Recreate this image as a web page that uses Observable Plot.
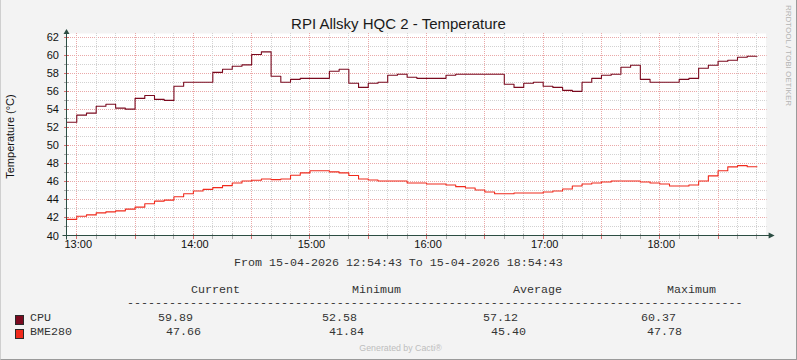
<!DOCTYPE html>
<html>
<head>
<meta charset="utf-8">
<script src="https://cdn.jsdelivr.net/npm/d3@7"></script>
<script src="https://cdn.jsdelivr.net/npm/@observablehq/plot@0.6"></script>
<style>
  html, body { margin: 0; padding: 0; background: #f3f3f3; }
  #frame { position: relative; width: 797px; height: 360px; background: #f3f3f3; overflow: hidden;
           font-family: "Liberation Sans", Arial, sans-serif; }
  #frame svg { position: absolute; left: 0; top: 0; }
  .abs { position: absolute; white-space: pre; }
  .mono { font-family: "Liberation Mono", "Courier New", monospace; font-size: 11.67px; line-height: 11.67px; color: #333; }
  #border { position: absolute; left: 0; top: 0; width: 797px; height: 360px; box-sizing: border-box;
            border-left: 1px solid #cfcfcf; border-right: 1px solid #9a9a9a; border-bottom: 1px solid #9a9a9a; pointer-events: none; }
</style>
</head>
<body>
<div id="frame"></div>
<script>
// ---------------- data ----------------
const seriesNames = ["CPU", "BME280"];
const seriesColors = ["#7b0a1f", "#f02a1c"];

// 5-minute samples starting 12:55
const cpuValues = [52.58, 53.37, 53.59, 54.36, 54.57, 54.14, 54.03, 55.22, 55.55, 55.11,
                   55.00, 56.56, 57.00, 57.00, 57.00, 58.10, 58.44, 58.78, 58.93, 60.07,
                   60.37, 57.67, 57.00, 57.33, 57.44, 57.44, 57.44, 58.22, 58.44, 56.89,
                   56.44, 56.89, 57.00, 57.78, 57.89, 57.56, 57.44, 57.44, 57.44, 57.78,
                   57.89, 57.89, 57.89, 57.89, 57.89, 56.78, 56.44, 56.89, 57.00, 56.56,
                   56.44, 56.11, 56.00, 57.00, 57.44, 57.78, 57.89, 58.67, 58.89, 57.33,
                   57.00, 57.00, 57.00, 57.33, 57.44, 58.55, 58.89, 59.33, 59.44, 59.78,
                   59.89];
const bmeValues = [41.84, 42.19, 42.34, 42.56, 42.67, 42.78, 42.97, 43.19, 43.56, 43.86,
                   43.97, 44.34, 44.68, 44.98, 45.16, 45.35, 45.57, 45.87, 46.09, 46.17,
                   46.31, 46.24, 46.31, 46.72, 46.98, 47.21, 47.21, 47.09, 46.98, 46.69,
                   46.31, 46.20, 46.09, 46.09, 46.09, 45.87, 45.87, 45.76, 45.76, 45.64,
                   45.46, 45.31, 45.09, 44.86, 44.68, 44.68, 44.75, 44.75, 44.75, 44.86,
                   44.98, 45.20, 45.53, 45.76, 45.87, 45.98, 46.09, 46.09, 46.09, 45.98,
                   45.87, 45.76, 45.53, 45.53, 45.64, 46.09, 46.65, 47.21, 47.65, 47.78,
                   47.66];

const statHeaders = ["Current", "Minimum", "Average", "Maximum"];
const statCurrent = [59.89, 47.66];
const statMinimum = [52.58, 41.84];
const statAverage = [57.12, 45.40];
const statMaximum = [60.37, 47.78];

const yTickLabels = [40, 42, 44, 46, 48, 50, 52, 54, 56, 58, 60, 62];
const xTickLabels = ["13:00", "14:00", "15:00", "16:00", "17:00", "18:00"];

const titleText = "RPI Allsky HQC 2 - Temperature";
const yAxisTitle = "Temperature (°C)";
const rangeText = "From 15-04-2026 12:54:43 To 15-04-2026 18:54:43";
const sideText = "RRDTOOL / TOBI OETIKER";
const footerText = "Generated by Cacti®";

// ---------------- helpers ----------------
const day = (h, m, s = 0) => new Date(Date.UTC(2026, 3, 15, h, m, s));
const tStart = day(12, 54, 43), tEnd = day(18, 54, 43);
const firstSample = day(12, 55);
function toSteps(values, name) {
  const rows = values.map((v, i) => ({time: d3.utcMinute.offset(firstSample, 5 * i), value: v, series: name}));
  rows.push({time: d3.utcMinute.offset(firstSample, 5 * values.length), value: values[values.length - 1], series: name});
  return rows;
}
const cpuRows = toSteps(cpuValues, seriesNames[0]);
const bmeRows = toSteps(bmeValues, seriesNames[1]);
const xTickTimes = xTickLabels.map(s => { const [h, m] = s.split(":"); return day(+h, +m); });
const labelOf = new Map(xTickTimes.map((t, i) => [+t, xTickLabels[i]]));

const MAJ = "#eaa8a8", MIN = "#d2d2d2", AXIS = "#2c4d43";

function gridMark(index, scales) {
  const {x, y} = scales;
  const g = d3.create("svg:g");
  const xL = x(tStart), xR = x(tEnd), yB = y(40), yT = y(62.4);
  const px = v => Math.round(v) + 0.5;
  for (const v of d3.range(41, 63)) {
    const major = v % 2 === 0, yy = px(y(v));
    g.append("line").attr("x1", xL).attr("x2", xR + 1).attr("y1", yy).attr("y2", yy)
      .attr("stroke", major ? MAJ : MIN).attr("stroke-dasharray", "1,1");
    g.append("line").attr("x1", Math.round(xL) - 2).attr("x2", Math.round(xL) + 3).attr("y1", yy).attr("y2", yy)
      .attr("stroke", major ? "#d87070" : "#aaa");
  }
  for (const t of d3.utcMinute.every(10).range(tStart, tEnd)) {
    const major = t.getUTCMinutes() % 30 === 0, xx = px(x(t));
    g.append("line").attr("x1", xx).attr("x2", xx).attr("y1", yT).attr("y2", yB)
      .attr("stroke", major ? MAJ : MIN).attr("stroke-dasharray", "1,1");
    g.append("line").attr("x1", xx).attr("x2", xx).attr("y1", Math.round(yB) - 2).attr("y2", Math.round(yB) + 3)
      .attr("stroke", major ? "#d87070" : "#aaa");
  }
  return g.node();
}

function axesMark(index, scales) {
  const {x, y} = scales;
  const g = d3.create("svg:g");
  const xL = Math.round(x(tStart)) + 0.5, yB = Math.round(y(40)) - 0.5;
  const xEnd = x(tEnd) + 9, yEnd = y(62.4) - 4;
  g.append("line").attr("x1", xL - 4).attr("x2", xEnd - 5).attr("y1", yB).attr("y2", yB).attr("stroke", AXIS);
  g.append("line").attr("x1", xL).attr("x2", xL).attr("y1", yB + 4).attr("y2", yEnd + 5).attr("stroke", AXIS);
  g.append("path").attr("d", `M${xEnd - 6},${yB - 3}L${xEnd},${yB}L${xEnd - 6},${yB + 3}Z`).attr("fill", AXIS);
  g.append("path").attr("d", `M${xL - 3},${yEnd + 5}L${xL},${yEnd}L${xL + 3},${yEnd + 5}Z`).attr("fill", AXIS);
  return g.node();
}

const plot = Plot.plot({
  width: 797,
  height: 262,
  marginLeft: 66,
  marginRight: 31.4,
  marginTop: 33,
  marginBottom: 26.5,
  x: {type: "utc", domain: [tStart, tEnd]},
  y: {domain: [40, 62.4]},
  style: {background: "transparent", fontFamily: "Liberation Sans, Arial, sans-serif", fontSize: "11px", color: "#111", overflow: "visible"},
  marks: [
    Plot.frame({fill: "white", stroke: null}),
    gridMark,
    Plot.line(bmeRows, {x: "time", y: "value", stroke: seriesColors[1], strokeWidth: 1.1, curve: "step-after"}),
    Plot.line(cpuRows, {x: "time", y: "value", stroke: seriesColors[0], strokeWidth: 1.1, curve: "step-after"}),
    axesMark,
    Plot.axisY({ticks: yTickLabels, tickSize: 0, tickPadding: 7.5, label: null, tickFormat: d => String(d)}),
    Plot.axisX({ticks: xTickTimes, tickSize: 0, tickPadding: 4.5, dx: 1.5, label: null, tickFormat: d => labelOf.get(+d)})
  ]
});

// ---------------- layout ----------------
const frame = document.getElementById("frame");
frame.appendChild(plot);

function addText(text, cls, style) {
  const d = document.createElement("div");
  d.className = "abs " + (cls || "");
  d.textContent = text;
  Object.assign(d.style, style);
  frame.appendChild(d);
  return d;
}

// title
addText(titleText, "", {left: "0px", width: "797px", textAlign: "center", top: "15.5px", fontSize: "15px", lineHeight: "15px", color: "#1a1a1a"});
// y axis title
addText(yAxisTitle, "", {left: (9.5 - 100) + "px", top: (136 - 5.5) + "px", width: "200px", textAlign: "center",
  fontSize: "11px", lineHeight: "11px", color: "#111", transform: "rotate(-90deg)"});
// side watermark
addText(sideText, "", {left: "784px", top: "5px", fontSize: "8px", lineHeight: "8px", color: "#b4b4b4", writingMode: "vertical-rl"});
// range line
addText(rangeText, "mono", {left: "234px", top: "257.8px"});
// headers
const headerX = [191, 352, 513, 667];
statHeaders.forEach((h, i) => addText(h, "mono", {left: headerX[i] + "px", top: "285.4px"}));
addText("-".repeat(88), "mono", {left: "127px", top: "297.9px"});
// rows
const rowTop = [313.4, 327.1];
const swatchTop = [315, 329];
const valueX = [[158, 322, 483, 641], [166, 329, 491, 647]];
seriesNames.forEach((name, r) => {
  const sw = document.createElement("div");
  Object.assign(sw.style, {position: "absolute", left: "15px", top: swatchTop[r] + "px", width: "7px", height: "8px",
    background: seriesColors[r], border: "1px solid #2a2a2a"});
  frame.appendChild(sw);
  addText(name, "mono", {left: "30px", top: rowTop[r] + "px"});
  const vals = [statCurrent[r], statMinimum[r], statAverage[r], statMaximum[r]];
  vals.forEach((v, c) => addText(v.toFixed(2), "mono", {left: valueX[r][c] + "px", top: rowTop[r] + "px"}));
});
// footer
addText(footerText, "", {left: "0px", width: "801px", textAlign: "center", top: "344.2px", fontSize: "8.8px", lineHeight: "8.8px", color: "#bdbdbd"});

const border = document.createElement("div");
border.id = "border";
frame.appendChild(border);
</script>
</body>
</html>
